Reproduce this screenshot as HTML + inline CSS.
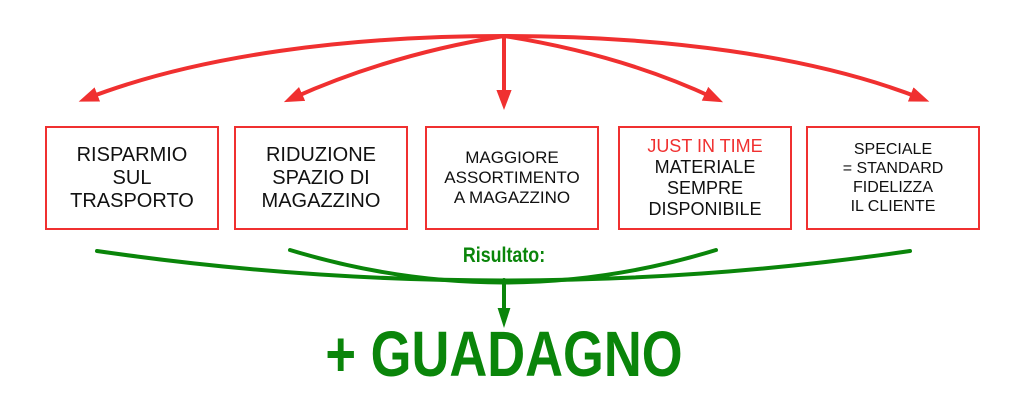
<!DOCTYPE html>
<html><head><meta charset="utf-8"><style>
body{margin:0;background:#fff;width:1024px;height:404px;overflow:hidden;position:relative;font-family:"Liberation Sans",sans-serif}
.b{position:absolute;top:126px;height:104px;border:2px solid #f03030;box-sizing:border-box;display:flex;align-items:center;justify-content:center;text-align:center;color:#111}
</style></head><body>
<svg width="1024" height="404" style="position:absolute;left:0;top:0">
<defs>
<marker id="r" markerWidth="5" markerHeight="5" refX="2.5" refY="2.5" orient="auto" markerUnits="strokeWidth"><path d="M0,0.6 L5,2.5 L0,4.4z" fill="#f03030"/></marker>
<marker id="g" markerWidth="5" markerHeight="5" refX="2.5" refY="2.5" orient="auto" markerUnits="strokeWidth"><path d="M0,0.9 L5,2.5 L0,4.1z" fill="#0a850a"/></marker>
</defs>
<g stroke="#f03030" stroke-width="4" fill="none" marker-end="url(#r)">
<path d="M504,36 C350,36 200,55 88,98"/>
<path d="M504,36 C430,48 360,68 293,98"/>
<path d="M504,36 L504,100"/>
<path d="M504,36 C580,48 650,68 714,98"/>
<path d="M504,36 C660,36 810,55 920,98"/>
</g>
<g stroke="#0a850a" stroke-width="4" fill="none" stroke-linecap="round">
<path d="M97,251 Q504,310 910,251"/>
<path d="M290,250 Q504,315 716,250"/>
<path d="M504,280 L504,318" marker-end="url(#g)"/>
</g>
</svg>
<div class="b" style="left:45px;width:174px;font-size:20px;line-height:23px">RISPARMIO<br>SUL<br>TRASPORTO</div>
<div class="b" style="left:234px;width:174px;font-size:20px;line-height:23px">RIDUZIONE<br>SPAZIO DI<br>MAGAZZINO</div>
<div class="b" style="left:425px;width:174px;font-size:17px;line-height:20px">MAGGIORE<br>ASSORTIMENTO<br>A MAGAZZINO</div>
<div class="b" style="left:618px;width:174px;font-size:18px;line-height:21px"><div><span style="color:#f03030">JUST IN TIME</span><br>MATERIALE<br>SEMPRE<br>DISPONIBILE</div></div>
<div class="b" style="left:806px;width:174px;font-size:16px;line-height:19px">SPECIALE<br>= STANDARD<br>FIDELIZZA<br>IL CLIENTE</div>
<div style="position:absolute;left:404px;width:200px;top:244px;text-align:center;color:#0a850a;font-weight:bold;font-size:21px;transform:scaleX(0.85)">Risultato:</div>
<div style="position:absolute;left:254px;width:500px;top:320px;text-align:center;color:#0a850a;font-weight:bold;font-size:64px;line-height:68px;transform:scaleX(0.82)">+ GUADAGNO</div>
</body></html>
